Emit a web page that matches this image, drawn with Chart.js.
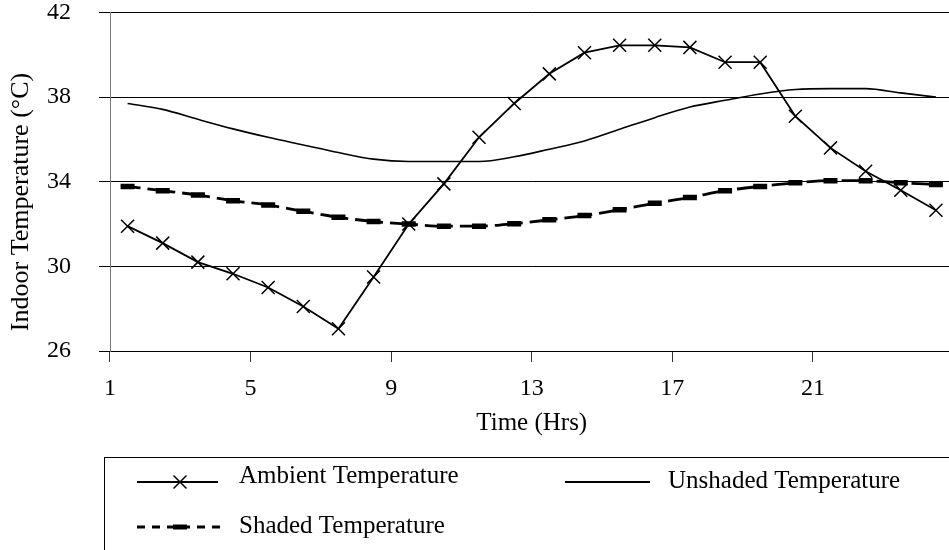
<!DOCTYPE html>
<html>
<head>
<meta charset="utf-8">
<script src="https://cdn.jsdelivr.net/npm/chart.js@4/dist/chart.umd.min.js"></script>
<style>
html,body{margin:0;padding:0;background:#fff;overflow:hidden}
canvas{display:block}
</style>
</head>
<body>
<canvas id="chart" width="966" height="550"></canvas>
<script>
const hours = [1,2,3,4,5,6,7,8,9,10,11,12,13,14,15,16,17,18,19,20,21,22,23,24];
const ambient = [31.9,31.1,30.2,29.65,29.0,28.1,27.05,29.5,32.0,33.9,36.1,37.7,39.1,40.1,40.45,40.45,40.35,39.65,39.65,37.1,35.6,34.5,33.6,32.65];
const unshaded = [37.7,37.42,36.95,36.5,36.1,35.74,35.38,35.07,34.96,34.96,34.96,35.18,35.54,35.93,36.48,37.03,37.53,37.85,38.15,38.36,38.4,38.4,38.2,38.0];
const shaded = [33.78,33.58,33.37,33.1,32.9,32.6,32.32,32.12,32.0,31.9,31.9,32.02,32.2,32.4,32.68,32.98,33.26,33.58,33.78,33.95,34.05,34.05,33.95,33.87];
const yTicks = [26,30,34,38,42];
const yTitle = 'Indoor Temperature (°C)';
const legendItems = ['Ambient Temperature','Unshaded Temperature','Shaded Temperature'];

const serif = "'Liberation Serif','Times New Roman',serif";

// y title sits a bit below the middle in the original, so draw it by hand
// legend box drawn below the plot, two columns like the original
const extras = {
  id:'extras',
  afterDraw(chart){
    const c = chart.ctx;
    c.save();
    c.fillStyle = '#000';
    c.save();
    c.translate(21, 202); c.rotate(-Math.PI/2);
    c.font = '26px ' + serif; c.textAlign = 'center'; c.textBaseline = 'middle';
    c.fillText(yTitle, 0, 0);
    c.restore();

    c.strokeStyle = '#000'; c.lineWidth = 1;
    c.strokeRect(104.5, 457.5, 900, 200);
    c.font = '25px ' + serif; c.textBaseline = 'alphabetic';
    // ambient
    c.lineWidth = 2; c.beginPath(); c.moveTo(137,482); c.lineTo(218,482); c.stroke();
    c.lineWidth = 1.5; c.beginPath();
    c.moveTo(173.5,475.5); c.lineTo(186.5,488.5); c.moveTo(186.5,475.5); c.lineTo(173.5,488.5); c.stroke();
    c.fillText(legendItems[0], 239, 483);
    // unshaded
    c.lineWidth = 2; c.beginPath(); c.moveTo(565,482); c.lineTo(650,482); c.stroke();
    c.fillText(legendItems[1], 668, 488);
    // shaded
    c.lineWidth = 3; c.setLineDash([8,7]); c.beginPath(); c.moveTo(137,527); c.lineTo(220,527); c.stroke();
    c.setLineDash([]); c.fillRect(173,524.5,14,5);
    c.fillText(legendItems[2], 239, 533);
    c.restore();
  }
};

new Chart(document.getElementById('chart'), {
  type:'line',
  data:{
    labels:hours,
    datasets:[
      {label:legendItems[0], data:ambient, borderColor:'#000', borderWidth:1.8, pointStyle:'crossRot', pointRadius:9.2, pointBorderWidth:1.5, pointBorderColor:'#000', tension:0, fill:false},
      {label:legendItems[1], data:unshaded, borderColor:'#000', borderWidth:1.6, pointRadius:0, cubicInterpolationMode:'monotone', fill:false},
      {label:legendItems[2], data:shaded, borderColor:'#000', borderWidth:2.8, borderDash:[28,7], borderDashOffset:15, pointStyle:'line', pointRadius:7, pointBorderWidth:5.5, pointBorderColor:'#000', cubicInterpolationMode:'monotone', fill:false}
    ]
  },
  options:{
    responsive:false, animation:false, devicePixelRatio:1,
    layout:{padding:{left:0,right:0,top:11,bottom:109}},
    plugins:{legend:{display:false}, tooltip:{enabled:false}},
    scales:{
      x:{
        type:'category', offset:true,
        afterFit(s){s.height = 90; s.paddingLeft = 0; s.paddingRight = 0},
        grid:{offset:true, drawOnChartArea:false, tickLength:11, tickColor:ctx=>ctx.index%4===0?'#333':'rgba(0,0,0,0)', lineWidth:1},
        border:{color:'#000', width:1},
        ticks:{autoSkip:false, maxRotation:0, color:'#000', padding:12, labelOffset:-17.6, font:{family:serif, size:24},
          callback:function(v,i){return i%4===0 ? this.getLabelForValue(v) : ''}},
        title:{display:true, text:'Time (Hrs)', color:'#000', font:{family:serif, size:25}, padding:{top:0,bottom:3}}
      },
      y:{
        min:26, max:42,
        afterFit(s){s.width = 110; s.paddingTop = 0; s.paddingBottom = 0},
        afterBuildTicks(s){s.ticks = yTicks.map(v=>({value:v}))},
        grid:{color:'#000', lineWidth:1, tickLength:11, tickColor:'#000'},
        border:{color:'#777', width:1},
        ticks:{color:'#000', padding:28, font:{family:serif, size:24}}
      }
    }
  },
  plugins:[extras]
});
</script>
</body>
</html>
